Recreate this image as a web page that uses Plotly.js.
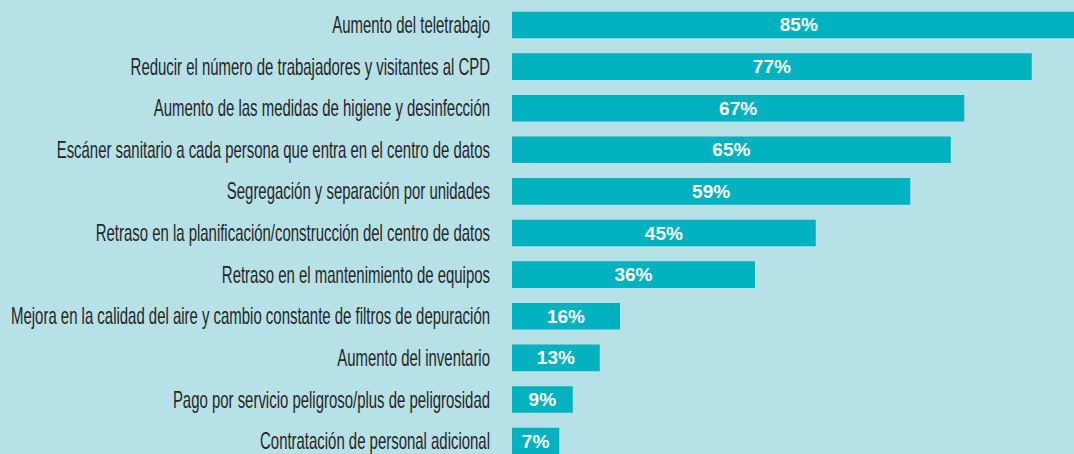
<!DOCTYPE html>
<html>
<head>
<meta charset="utf-8">
<script src="https://cdn.plot.ly/plotly-3.0.1.min.js"></script>
<style>
html,body{margin:0;padding:0;background:#b6e1e7;}
#chart{width:1074px;height:454px;}
</style>
</head>
<body>
<div id="chart"></div>
<script>
const categories = [
  "Aumento del teletrabajo",
  "Reducir el número de trabajadores y visitantes al CPD",
  "Aumento de las medidas de higiene y desinfección",
  "Escáner sanitario a cada persona que entra en el centro de datos",
  "Segregación y separación por unidades",
  "Retraso en la planificación/construcción del centro de datos",
  "Retraso en el mantenimiento de equipos",
  "Mejora en la calidad del aire y cambio constante de filtros de depuración",
  "Aumento del inventario",
  "Pago por servicio peligroso/plus de peligrosidad",
  "Contratación de personal adicional"
];
const values = [85, 77, 67, 65, 59, 45, 36, 16, 13, 9, 7];
const valueLabels = values.map(v => v + "%");

const trace = {
  type: "bar",
  orientation: "h",
  x: values,
  y: categories,
  text: valueLabels,
  textposition: "inside",
  insidetextanchor: "middle",
  textangle: 0,
  constraintext: "none",
  textfont: {family: "Liberation Sans, Arial, sans-serif", size: 19, color: "#ffffff", weight: "bold"},
  marker: {color: "#00b2bf", line: {width: 0}},
  width: 0.64,
  hoverinfo: "none",
  cliponaxis: true
};

const layout = {
  width: 1074,
  height: 454,
  margin: {l: 512, r: 0, t: 0, b: 0, pad: 0},
  paper_bgcolor: "#b6e1e7",
  plot_bgcolor: "#b6e1e7",
  showlegend: false,
  xaxis: {
    range: [0, 83.26],
    showgrid: false, zeroline: false, showticklabels: false, showline: false, ticks: ""
  },
  yaxis: {
    type: "category",
    range: [10.31, -0.6],
    showgrid: false, zeroline: false, showline: false, ticks: "",
    ticklabelstandoff: 21,
    tickfont: {family: "Liberation Sans, Arial, sans-serif", size: 23, color: "#262626"}
  }
};

Plotly.newPlot("chart", [trace], layout, {displayModeBar: false, staticPlot: true}).then(gd => {
  // condense the category labels horizontally (the original uses a narrow typeface)
  gd.querySelectorAll(".ytick text").forEach(t => {
    const x = parseFloat(t.getAttribute("x")) || 0;
    const tr = t.getAttribute("transform") || "";
    t.setAttribute("transform", tr + " translate(" + x + ",0) scale(0.65,1) translate(" + (-x) + ",0)");
  });
});
</script>
</body>
</html>
